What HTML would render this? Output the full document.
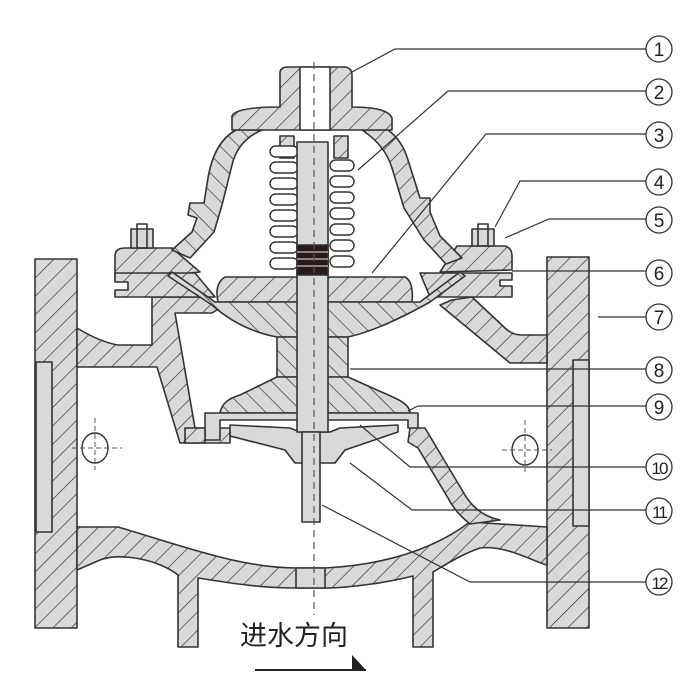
<!DOCTYPE html>
<html><head><meta charset="utf-8"><style>
html,body{margin:0;padding:0;background:#fff;}
svg{display:block}
</style></head><body>
<svg width="700" height="700" viewBox="0 0 700 700" xmlns="http://www.w3.org/2000/svg">
<defs>
<pattern id="h" patternUnits="userSpaceOnUse" width="13" height="13" patternTransform="rotate(45)">
<rect width="13" height="13" fill="#d9d9d9"/>
<line x1="0" y1="0" x2="0" y2="13" stroke="#333" stroke-width="1.4"/>
</pattern>
<pattern id="h2" patternUnits="userSpaceOnUse" width="13" height="13" patternTransform="rotate(-45)">
<rect width="13" height="13" fill="#d9d9d9"/>
<line x1="0" y1="0" x2="0" y2="13" stroke="#333" stroke-width="1.4"/>
</pattern>
</defs>
<g stroke="#333" stroke-width="1.6" stroke-linejoin="round">
<rect x="35" y="259" width="42" height="369" fill="url(#h)"/>
<rect x="547" y="257" width="42" height="371" fill="url(#h)"/>
<rect x="36" y="362" width="16" height="170" fill="#d9d9d9"/>
<rect x="573" y="360" width="16" height="166" fill="#d9d9d9"/>
<path d="M77 527 L118 527 C180 545 240 568 296 568 L325 568 C380 565 430 552 470 522 L547 527 L547 565 C530 560 505 545 480 548 C460 555 445 565 433 572 L433 647 L413 647 L413 576 C390 582 350 588 325 588 L296 588 C260 588 230 583 198 578 L198 647 L178 647 L178 575 C160 560 120 552 100 560 L77 570 Z" fill="url(#h)"/>
<rect x="296" y="568" width="29" height="20" fill="#d9d9d9"/>
<path d="M410 428 L425 428 L462 490 Q475 515 500 520 L470 524 Q455 512 448 498 L418 448 L408 442 Z" fill="url(#h)"/>
<path d="M77 328 Q100 342 118 345 L152 345 L152 297 L205 297 L220 308 L212 313 L175 313 L195 428 L230 428 L230 443 L180 443 L157 367 L77 367 Z" fill="url(#h)"/>
<path d="M452 300 L472 297 L505 328 Q512 335 522 335 L547 335 L547 363 L510 363 L440 305 Z" fill="url(#h)"/>
<path d="M115 256 Q115 248 125 248 L172 248 L200 272 L115 280 Z" fill="url(#h)"/>
<path d="M115 273 L195 273 L215 297 L115 297 L115 290 L128 290 L128 282 L115 282 Z" fill="url(#h)"/>
<path d="M457 246 L505 246 Q512 248 512 256 L512 270 L440 272 Z" fill="url(#h)"/>
<path d="M420 273 L512 273 L512 280 L500 280 L500 286 L512 286 L512 297 L430 297 Z" fill="url(#h)"/>
<rect x="131" y="229" width="22" height="19" fill="#d9d9d9"/><rect x="137" y="224" width="10" height="24" fill="none"/>
<rect x="472" y="229" width="22" height="17" fill="#d9d9d9"/><rect x="478" y="224" width="10" height="22" fill="none"/>
<!-- bonnet shell -->
<path d="M236 130 L262 130 Q238 140 232 165 L222 205 L214 232 L190 258 L172 250 L192 232 L197 218 L188 215 L190 203 L204 203 L208 178 Q214 142 236 130 Z" fill="url(#h2)"/>
<path d="M362 130 L388 130 Q402 140 408 160 L420 198 L430 198 L430 212 L440 236 L462 258 L446 264 L424 240 L404 208 L392 168 Q385 145 362 130 Z" fill="url(#h)"/>
<path d="M232 130 L232 116 Q236 107 280 107 L280 72 Q281 67 288 67 L345 67 Q352 68 352 75 L352 107 Q388 107 392 118 L392 130 Z" fill="url(#h)"/>
<rect x="300" y="67" width="30" height="63" fill="#fff"/>
<rect x="280" y="136" width="14" height="22" fill="url(#h)"/>
<rect x="334" y="136" width="14" height="22" fill="url(#h)"/>
</g>
<g stroke="#333" stroke-width="1.4" fill="#fff">
<rect x="270" y="146" width="28" height="11" rx="5.5"/><rect x="330" y="160" width="24" height="11" rx="5.5"/>
<rect x="270" y="162" width="28" height="11" rx="5.5"/><rect x="330" y="176" width="24" height="11" rx="5.5"/>
<rect x="270" y="178" width="28" height="11" rx="5.5"/><rect x="330" y="192" width="24" height="11" rx="5.5"/>
<rect x="270" y="194" width="28" height="11" rx="5.5"/><rect x="330" y="208" width="24" height="11" rx="5.5"/>
<rect x="270" y="210" width="28" height="11" rx="5.5"/><rect x="330" y="224" width="24" height="11" rx="5.5"/>
<rect x="270" y="226" width="28" height="11" rx="5.5"/><rect x="330" y="240" width="24" height="11" rx="5.5"/>
<rect x="270" y="242" width="28" height="11" rx="5.5"/><rect x="330" y="256" width="24" height="11" rx="5.5"/>
<rect x="270" y="258" width="28" height="11" rx="5.5"/>
</g>
<g stroke="#333" stroke-width="1.6" stroke-linejoin="round">
<path d="M225 277 L405 277 Q414 282 412 302 L218 302 Q214 284 225 277 Z" fill="url(#h)"/>
<path d="M172 272 L215 302 L420 302 L460 272 L465 276 L430 302 Q380 330 348 337 L277 337 Q240 330 212 305 L168 276 Z" fill="url(#h2)"/>
<rect x="277" y="337" width="71" height="40" fill="url(#h2)"/>
<path d="M277 377 L348 377 L395 398 Q410 405 410 413 L220 413 Q222 400 240 395 Z" fill="url(#h2)"/>
<path d="M205 413 L418 413 L418 428 L408 428 L408 420 L220 420 L220 440 L205 440 Z" fill="#d9d9d9"/>
<path d="M230 425 L290 428 L300 432 L330 432 L340 428 L398 425 L398 432 L345 450 L335 463 L295 463 L285 450 L230 436 Z" fill="#d9d9d9"/>
<rect x="185" y="428" width="20" height="15" fill="url(#h)"/>
<rect x="297" y="142" width="31" height="290" fill="#d9d9d9"/>
<rect x="302" y="432" width="18" height="90" fill="#d9d9d9"/>
<rect x="297" y="245" width="31" height="30" fill="#2a1a1a"/>
</g>
<g stroke="#eee" stroke-width="1"><line x1="297" y1="252" x2="328" y2="252"/><line x1="297" y1="259" x2="328" y2="259"/><line x1="297" y1="266" x2="328" y2="266"/></g>
<line x1="314" y1="62" x2="314" y2="615" stroke="#555" stroke-width="1.2" stroke-dasharray="7 5"/>
<g stroke="#333" stroke-width="1.4" fill="none">
<ellipse cx="95" cy="448" rx="13" ry="15"/><ellipse cx="525" cy="450" rx="13" ry="15"/>
</g>
<g stroke="#555" stroke-width="1" stroke-dasharray="5 3">
<line x1="72" y1="448" x2="122" y2="448"/><line x1="95" y1="418" x2="95" y2="470"/>
<line x1="502" y1="450" x2="552" y2="450"/><line x1="525" y1="420" x2="525" y2="472"/>
</g>
<g stroke="#333" stroke-width="1.2" fill="none">
<polyline points="352,72 395,49 646,49"/>
<polyline points="358,170 448,91 646,91"/>
<polyline points="372,273 486,134 646,134"/>
<polyline points="495,227 520,181 646,181"/>
<polyline points="505,238 549,219 646,219"/>
<polyline points="512,271 646,271"/>
<polyline points="598,317 646,317"/>
<polyline points="350,369 646,369"/>
<polyline points="408,411 418,406 646,406"/>
<polyline points="360,425 410,467 646,467"/>
<polyline points="350,463 412,510 646,510"/>
<polyline points="322,505 470,582 646,582"/>
</g>
<g stroke="#333" stroke-width="1.3" fill="#fff">
<circle cx="659" cy="49" r="13"/><circle cx="659" cy="92" r="13"/><circle cx="659" cy="135" r="13"/>
<circle cx="659" cy="182" r="13"/><circle cx="659" cy="220" r="13"/><circle cx="659" cy="273" r="13"/>
<circle cx="659" cy="317" r="13"/><circle cx="659" cy="370" r="13"/><circle cx="659" cy="407" r="13"/>
<circle cx="659" cy="467" r="13"/><circle cx="659" cy="511" r="13"/><circle cx="659" cy="582" r="13"/>
</g>
<g font-family="Liberation Sans, sans-serif" font-size="19" fill="#222" text-anchor="middle">
<text x="659" y="56">1</text><text x="659" y="99">2</text><text x="659" y="142">3</text>
<text x="659" y="189">4</text><text x="659" y="227">5</text><text x="659" y="280">6</text>
<text x="659" y="324">7</text><text x="659" y="377">8</text><text x="659" y="414">9</text>
<text x="659" y="474" font-size="17" letter-spacing="-2">10</text><text x="659" y="518" font-size="17" letter-spacing="-2">11</text><text x="659" y="589" font-size="17" letter-spacing="-2">12</text>
</g>
<text x="240" y="645" font-family="Liberation Sans, 'Noto Sans CJK SC', sans-serif" font-size="27" fill="#222">进水方向</text>
<line x1="255" y1="670" x2="366" y2="670" stroke="#222" stroke-width="2"/>
<polygon points="352,655 366,670 352,670" fill="#222"/>
</svg>
</body></html>
